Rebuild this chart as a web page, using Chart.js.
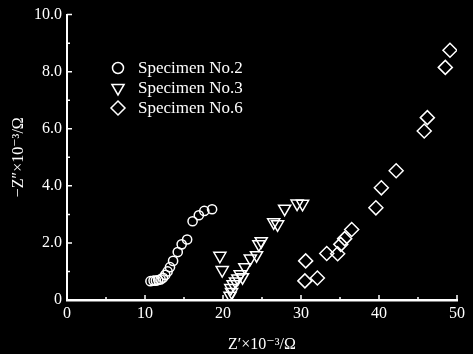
<!DOCTYPE html>
<html>
<head>
<meta charset="utf-8">
<script src="https://cdn.jsdelivr.net/npm/chart.js@4.4.0/dist/chart.umd.min.js"></script>
<style>
  html, body { margin: 0; padding: 0; background: #000; }
  #wrap { width: 473px; height: 354px; }
</style>
</head>
<body>
<div id="wrap"><canvas id="nyquist" width="473" height="354"></canvas></div>
<script>
// Specimen No.2 (circles)
const no2X = [10.7, 11.1, 11.4, 11.7, 12.0, 12.3, 12.6, 12.9, 13.2, 13.6, 14.2, 14.7, 15.4, 16.1, 16.9, 17.6, 18.6];
const no2Y = [0.66, 0.68, 0.68, 0.70, 0.72, 0.78, 0.88, 1.00, 1.15, 1.37, 1.68, 1.95, 2.12, 2.76, 2.97, 3.12, 3.18];
// Specimen No.3 (down triangles)
const no3X = [19.6, 19.9, 20.9, 21.0, 21.1, 21.3, 21.6, 21.9, 22.2, 22.5, 22.8, 23.5, 24.3, 24.6, 24.9, 26.5, 27.0, 27.9, 29.5, 30.2];
const no3Y = [1.55, 1.05, 0.15, 0.42, 0.28, 0.55, 0.65, 0.75, 0.90, 0.80, 1.15, 1.45, 1.57, 1.95, 2.06, 2.72, 2.65, 3.20, 3.38, 3.37];
// Specimen No.6 (diamonds)
const no6X = [30.5, 32.1, 30.6, 33.3, 34.7, 35.1, 35.6, 36.5, 39.6, 40.3, 42.2, 45.8, 46.2, 48.5, 49.1];
const no6Y = [0.67, 0.77, 1.37, 1.63, 1.62, 1.95, 2.15, 2.47, 3.23, 3.93, 4.53, 5.92, 6.39, 8.15, 8.75];

const legendLabels = ['Specimen No.2', 'Specimen No.3', 'Specimen No.6'];
const yTickLabels = ['0', '2.0', '4.0', '6.0', '8.0', '10.0'];
const xTickLabels = ['0', '10', '20', '30', '40', '50'];

const serif = '"Liberation Serif", "DejaVu Serif", serif';

function toPoints(xs, ys) {
    return xs.map((x, i) => ({ x: x, y: ys[i] }));
}

// black page background
const blackBg = {
    id: 'blackBg',
    beforeDraw(chart) {
        const ctx = chart.ctx;
        ctx.save();
        ctx.fillStyle = '#000';
        ctx.fillRect(0, 0, chart.width, chart.height);
        ctx.restore();
    }
};

// ticks pointing into the plot, like the original figure
const inwardTicks = {
    id: 'inwardTicks',
    afterDraw(chart) {
        const { ctx, scales: { x, y } } = chart;
        ctx.save();
        ctx.strokeStyle = '#fff';
        ctx.lineWidth = 1.5;
        ctx.beginPath();
        for (let v = 0; v <= 50; v += 5) {
            const px = x.getPixelForValue(v);
            const len = v % 10 ? 3 : 5;
            ctx.moveTo(px, y.bottom);
            ctx.lineTo(px, y.bottom - len);
        }
        for (let v = 0; v <= 10; v += 1) {
            const py = y.getPixelForValue(v);
            const len = v % 2 ? 3 : 5;
            ctx.moveTo(x.left, py);
            ctx.lineTo(x.left + len, py);
        }
        ctx.stroke();
        ctx.restore();
    }
};

function drawMarker(ctx, style, cx, cy, r) {
    ctx.beginPath();
    if (style === 'circle') {
        ctx.arc(cx, cy, r, 0, Math.PI * 2);
    } else if (style === 'triangle') {
        ctx.moveTo(cx - r * 0.87, cy - r * 0.5);
        ctx.lineTo(cx + r * 0.87, cy - r * 0.5);
        ctx.lineTo(cx, cy + r);
        ctx.closePath();
    } else {
        ctx.moveTo(cx, cy - r);
        ctx.lineTo(cx + r, cy);
        ctx.lineTo(cx, cy + r);
        ctx.lineTo(cx - r, cy);
        ctx.closePath();
    }
    ctx.stroke();
}

// legend sits inside the plot, upper left
const insideLegend = {
    id: 'insideLegend',
    afterDraw(chart) {
        const ctx = chart.ctx;
        const styles = ['circle', 'triangle', 'diamond'];
        const sizes = [5.5, 7, 7];
        ctx.save();
        ctx.strokeStyle = '#fff';
        ctx.lineWidth = 1.5;
        ctx.fillStyle = '#fff';
        ctx.font = '17px ' + serif;
        ctx.textBaseline = 'middle';
        legendLabels.forEach((label, i) => {
            const cy = 68 + i * 20;
            drawMarker(ctx, styles[i], 118, cy, sizes[i]);
            ctx.fillText(label, 138, cy + 1);
        });
        ctx.restore();
    }
};

const markerCommon = {
    showLine: false,
    borderColor: '#fff',
    backgroundColor: 'rgba(0,0,0,0)',
    borderWidth: 1.5,
    pointHoverRadius: 0
};

new Chart(document.getElementById('nyquist'), {
    type: 'scatter',
    data: {
        datasets: [
            Object.assign({ label: legendLabels[0], data: toPoints(no2X, no2Y), pointStyle: 'circle', pointRadius: 4.6 }, markerCommon),
            Object.assign({ label: legendLabels[1], data: toPoints(no3X, no3Y), pointStyle: 'triangle', rotation: 180, pointRadius: 7 }, markerCommon),
            Object.assign({ label: legendLabels[2], data: toPoints(no6X, no6Y), pointStyle: 'rectRot', pointRadius: 7 }, markerCommon)
        ]
    },
    options: {
        responsive: false,
        animation: false,
        events: [],
        layout: { padding: { top: 13, right: 16, left: 0, bottom: 0 } },
        plugins: {
            legend: { display: false },
            tooltip: { enabled: false }
        },
        scales: {
            x: {
                type: 'linear',
                min: 0,
                max: 50,
                ticks: {
                    stepSize: 10,
                    color: '#fff',
                    padding: 4,
                    font: { family: serif, size: 16 },
                    callback: (v) => xTickLabels[v / 10]
                },
                grid: { display: false, drawTicks: false },
                border: { display: true, color: '#fff', width: 2.5 },
                title: {
                    display: true,
                    text: 'Z′×10⁻³/Ω',
                    color: '#fff',
                    font: { family: serif, size: 16 },
                    padding: { top: 2, bottom: 0 }
                },
                afterFit: (scale) => { scale.height = 54; }
            },
            y: {
                type: 'linear',
                min: 0,
                max: 10,
                ticks: {
                    stepSize: 2,
                    color: '#fff',
                    padding: 5,
                    font: { family: serif, size: 16 },
                    callback: (v) => yTickLabels[v / 2]
                },
                grid: { display: false, drawTicks: false },
                border: { display: true, color: '#fff', width: 2 },
                title: {
                    display: true,
                    text: '−Z″×10⁻³/Ω',
                    color: '#fff',
                    font: { family: serif, size: 16 },
                    padding: { top: 9, bottom: 0 }
                },
                afterFit: (scale) => { scale.width = 67; }
            }
        }
    },
    plugins: [blackBg, inwardTicks, insideLegend]
});
</script>
</body>
</html>
